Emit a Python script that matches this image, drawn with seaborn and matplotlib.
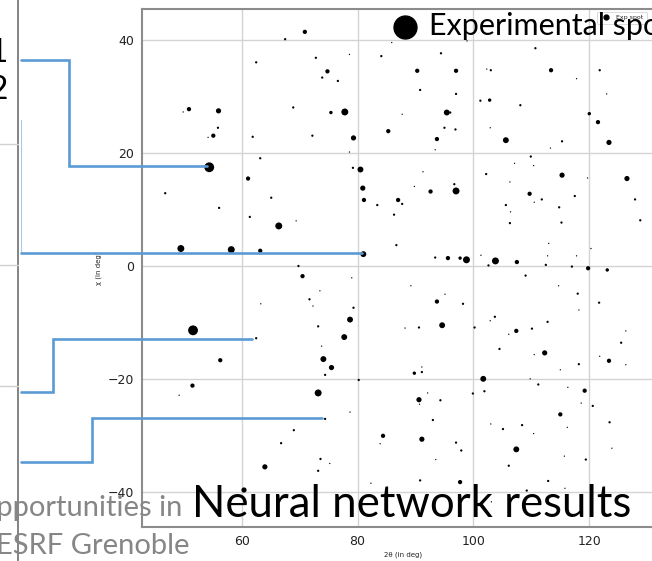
import matplotlib
matplotlib.use("Agg")
import matplotlib.pyplot as plt
from matplotlib.lines import Line2D
import seaborn as sns
import pandas as pd

# ---------------- data (2theta, chi in degrees, intensity class) ----------------
two_theta = [70.9, 67.5, 62.5, 72.8, 78.6, 74.8, 73.9, 76.6, 84.1, 85.9,
             50.9, 49.9, 56.0, 55.9, 55.1, 54.2, 68.9, 75.4, 77.8, 79.3,
             61.9, 72.2, 85.3, 78.6, 63.2, 54.4, 61.1, 79.2, 80.5, 80.9,
             81.1, 83.4, 87.0, 86.3, 46.8, 56.1, 65.1, 61.4, 69.4, 66.4,
             49.5, 58.2, 63.2, 81.0, 86.7, 69.8, 70.5, 79.0, 94.4, 90.3,
             97.0, 102.3, 103.0, 113.4, 110.7, 121.8, 98.9, 117.8, 90.8, 97.0,
             101.2, 102.8, 108.1, 123.0, 87.7, 95.4, 96.0, 95.0, 96.9, 102.9,
             120.0, 121.5, 93.7, 105.6, 115.3, 113.3, 123.4, 93.4, 109.9, 107.1,
             110.4, 102.2, 115.3, 119.7, 126.5, 91.3, 89.8, 96.7, 97.0, 92.6,
             87.7, 106.3, 109.7, 111.8, 110.5, 117.5, 105.6, 106.4, 114.8, 127.9,
             106.3, 115.2, 128.8, 93.4, 95.6, 97.7, 98.8, 101.3, 103.8, 107.5,
             113.0, 112.8, 117.8, 120.3, 102.6, 112.5, 117.0, 119.8, 123.1, 109.0,
             89.2, 95.1, 93.7, 98.2, 114.7, 118.0, 121.7, 118.2, 103.7, 102.9,
             112.8, 94.6, 90.6, 88.2, 100.2, 107.4, 110.1, 106.1, 126.3, 125.5,
             104.5, 112.3, 110.5, 121.8, 123.4, 126.3, 118.2, 115.0, 91.1, 89.8,
             91.1, 101.7, 109.8, 111.2, 101.9, 99.9, 116.3, 119.2, 92.1, 90.6,
             90.7, 94.3, 118.6, 120.6, 115.0, 93.0, 123.5, 103.0, 105.1, 108.4,
             116.2, 110.4, 84.4, 83.9, 91.1, 97.0, 97.9, 107.4, 123.9, 115.7,
             119.4, 93.5, 106.1, 90.8, 97.7, 112.9, 109.2, 115.8, 73.5, 71.7,
             63.3, 72.3, 79.3, 78.7, 73.2, 51.6, 62.5, 77.7, 73.8, 74.1,
             75.5, 56.3, 74.4, 51.5, 49.2, 73.2, 80.2, 78.7, 74.4, 69.0,
             66.8, 73.6, 75.2, 64.0, 73.2, 82.3, 60.4, 46.5, 103.1]
chi = [41.5, 40.2, 36.1, 36.9, 37.5, 34.5, 33.4, 32.8, 37.2, 39.6,
       27.8, 27.3, 27.5, 24.5, 23.1, 22.8, 28.1, 27.2, 27.3, 22.7,
       22.9, 23.1, 23.9, 20.2, 19.1, 17.5, 15.5, 17.4, 17.1, 13.8,
       11.7, 10.8, 11.7, 9.1, 12.9, 10.3, 12.1, 8.7, 8.0, 7.1,
       3.1, 2.9, 2.7, 2.1, 3.7, 0.0, -1.8, -2.1, 37.7, 34.6,
       34.6, 34.9, 34.7, 34.7, 38.6, 34.7, 39.9, 33.2, 31.2, 30.5,
       29.3, 29.4, 28.5, 30.5, 26.9, 27.2, 27.2, 24.5, 24.2, 24.5,
       27.0, 25.5, 22.5, 22.3, 22.1, 20.9, 21.9, 20.6, 19.4, 18.2,
       17.8, 16.3, 16.1, 15.6, 15.5, 16.7, 14.1, 14.5, 13.3, 13.2,
       11.0, 14.9, 12.8, 11.8, 11.3, 12.4, 10.8, 9.6, 10.4, 11.8,
       7.6, 7.7, 8.1, 1.5, 1.4, 1.4, 1.1, 1.9, 0.9, 0.7,
       4.0, 1.8, 1.8, 3.1, 0.1, 0.2, -0.1, -0.4, -0.7, -1.7,
       -3.5, -5.0, -6.3, -6.7, -3.5, -4.9, -6.5, -7.8, -9.0, -9.7,
       -9.9, -10.5, -10.9, -11.0, -10.9, -11.5, -11.1, -12.1, -11.5, -13.6,
       -14.7, -15.4, -15.7, -16.0, -16.8, -17.5, -17.4, -18.4, -17.9, -19.0,
       -18.8, -20.0, -20.0, -21.0, -22.2, -22.6, -21.5, -22.1, -22.5, -23.7,
       -24.5, -23.8, -24.3, -24.8, -26.3, -27.3, -27.7, -28.0, -28.9, -28.2,
       -28.6, -29.7, -30.1, -31.5, -30.7, -31.3, -32.7, -32.5, -32.3, -33.7,
       -34.3, -34.3, -35.4, -38.0, -38.3, -38.1, -39.8, -39.4, -4.4, -5.9,
       -6.7, -7.1, -7.4, -9.5, -10.7, -11.4, -12.8, -12.6, -14.2, -16.5,
       -18.0, -16.7, -19.3, -21.2, -22.9, -22.5, -20.2, -25.9, -27.1, -29.1,
       -31.4, -34.2, -35.0, -35.6, -36.3, -38.5, -39.7, -41.1, -41.8]
intensity = [4, 2, 2, 2, 1, 4, 2, 2, 2, 1,
             4, 1, 5, 2, 4, 1, 2, 3, 7, 5,
             2, 2, 4, 1, 2, 8, 4, 2, 6, 5,
             4, 2, 4, 2, 2, 2, 2, 2, 1, 7,
             7, 7, 4, 6, 2, 2, 4, 1, 2, 4,
             4, 1, 2, 4, 2, 2, 1, 1, 2, 2,
             2, 3, 2, 1, 1, 6, 2, 2, 2, 1,
             3, 4, 4, 6, 2, 1, 5, 1, 2, 1,
             1, 2, 5, 1, 5, 1, 1, 2, 7, 4,
             2, 1, 4, 2, 1, 2, 2, 1, 2, 2,
             2, 2, 2, 2, 4, 3, 7, 1, 7, 4,
             1, 1, 1, 1, 2, 2, 2, 4, 3, 2,
             1, 1, 4, 2, 1, 2, 2, 1, 2, 1,
             2, 6, 2, 1, 2, 4, 2, 1, 1, 2,
             2, 5, 1, 1, 4, 1, 2, 1, 1, 3,
             2, 6, 1, 2, 2, 2, 1, 4, 1, 5,
             1, 2, 1, 2, 4, 2, 2, 1, 2, 2,
             1, 1, 4, 1, 5, 2, 2, 6, 1, 1,
             2, 1, 2, 2, 4, 2, 2, 1, 1, 2,
             1, 1, 2, 6, 2, 8, 2, 6, 1, 6,
             5, 4, 2, 4, 1, 7, 2, 1, 2, 2,
             2, 2, 1, 5, 2, 1, 5, 1, 1]

x_ticks = [60, 80, 100, 120]
y_ticks = [-40, -20, 0, 20, 40]
x_label = "2θ (in deg)"
y_label = "χ (in deg)"
legend_label = "Exp spot"
big_title = "Neural network results"
big_legend_text = "Experimental spot"
slide_left_lines = ["Opportunities in", "ESRF Grenoble"]

spot_sizes = {1: 0.9, 2: 2.7, 3: 6, 4: 9.5, 5: 14, 6: 18, 7: 25, 8: 50}

df = pd.DataFrame({"two_theta": two_theta, "chi": chi, "intensity": intensity})

# ---------------- figure ----------------
sns.set_style("white")
W, H = 652, 561
fig = plt.figure(figsize=(W / 100, H / 100), dpi=100)


def fp(x, y):
    return (x / W, 1 - y / H)


ax_left, ax_top, ax_bottom, ax_right = 141.7, 9.0, 527.0, 664.6
ax = fig.add_axes([ax_left / W, 1 - ax_bottom / H,
                   (ax_right - ax_left) / W, (ax_bottom - ax_top) / H])

sns.scatterplot(data=df, x="two_theta", y="chi", size="intensity",
                sizes=spot_sizes, color="black", linewidth=0, legend=False,
                ax=ax, zorder=3)

ax.set_xlim(42.74, 133.0)
ax.set_ylim(-46.26, 45.55)
ax.set_xticks(x_ticks)
ax.set_yticks(y_ticks)
ax.grid(True, color="#d3d3d3", linewidth=1.0, zorder=0)
ax.set_axisbelow(True)
for s in ax.spines.values():
    s.set_color("#8c8c8c")
    s.set_linewidth(1.5)
ax.tick_params(axis="both", length=3, width=0.8, color="#8c8c8c",
               labelsize=9, labelcolor="#222222", pad=2.5)
ax.set_xlabel(x_label, fontsize=5, color="#222222")
ax.set_ylabel(y_label, fontsize=5, color="#222222")
ax.xaxis.set_label_coords((403 - ax_left) / (ax_right - ax_left),
                          -(551.5 - ax_bottom) / (ax_bottom - ax_top))
ax.yaxis.set_label_coords(-(ax_left - 101.5) / (ax_right - ax_left), 0.5)

leg = ax.legend(handles=[Line2D([], [], marker="o", color="black", linestyle="",
                                markersize=3.5)],
                labels=[legend_label], loc="upper left",
                bbox_to_anchor=fp(597, 12), bbox_transform=fig.transFigure,
                fontsize=4.5, borderaxespad=0, handletextpad=0.6,
                borderpad=0.5, frameon=True)
leg.get_frame().set_edgecolor("#cccccc")
leg.get_frame().set_linewidth(0.6)

# ---------------- slide decorations ----------------
slide_font = ["Lato", "DejaVu Sans"]
gray_txt = "#868686"
blue = "#5B9BD5"

# left panel frame lines
fig.add_artist(Line2D([fp(18.3, 0)[0]] * 2, [fp(0, 0)[1], fp(0, 561)[1]],
                      transform=fig.transFigure, color="#7a7a7a", lw=1.3))
for yy in (144, 265, 386):
    fig.add_artist(Line2D([0, fp(18, 0)[0]], [fp(0, yy)[1]] * 2,
                          transform=fig.transFigure, color="#d0d0d0", lw=1.0))
fig.add_artist(Line2D([fp(21.3, 0)[0]] * 2, [fp(0, 120)[1], fp(0, 253)[1]],
                      transform=fig.transFigure, color="#a9c8e8", lw=0.8))

fig.text(*fp(8, 62), "1", fontsize=24, family=slide_font, ha="right",
         va="baseline", color="black")
fig.text(*fp(8, 99), "2", fontsize=24, family=slide_font, ha="right",
         va="baseline", color="black")

# blue connector lines
paths = [
    [(21.3, 60.3), (69.3, 60.3), (69.3, 165.7), (206.7, 165.7)],
    [(21.3, 253.3), (361.7, 253.3)],
    [(21.3, 392.3), (53.3, 392.3), (53.3, 339.0), (251.7, 339.0)],
    [(21.3, 461.7), (92.3, 461.7), (92.3, 418.3), (322.3, 418.3)],
]
for p in paths:
    xs = [fp(a, b)[0] for a, b in p]
    ys = [fp(a, b)[1] for a, b in p]
    fig.add_artist(Line2D(xs, ys, transform=fig.transFigure, color=blue,
                          lw=1.9, solid_joinstyle="miter", zorder=5))

# big "Experimental spot" legend
fig.add_artist(Line2D([fp(405, 27)[0]], [fp(405, 27)[1]], marker="o",
                      markersize=16.5, color="black", linestyle="",
                      transform=fig.transFigure, zorder=6))
fig.text(*fp(429, 35), big_legend_text, fontsize=22, family=slide_font,
         ha="left", va="baseline", color="black", zorder=6)

# big title
fig.text(*fp(192, 517), big_title, fontsize=31.5, family=slide_font,
         ha="left", va="baseline", color="black", zorder=6)

# gray slide text on left
fig.text(*fp(182, 516), slide_left_lines[0], fontsize=21, family=slide_font,
         ha="right", va="baseline", color=gray_txt, zorder=6)
fig.text(*fp(-4, 554), slide_left_lines[1], fontsize=21, family=slide_font,
         ha="left", va="baseline", color=gray_txt, zorder=6)

fig.savefig("out.png", dpi=100)
